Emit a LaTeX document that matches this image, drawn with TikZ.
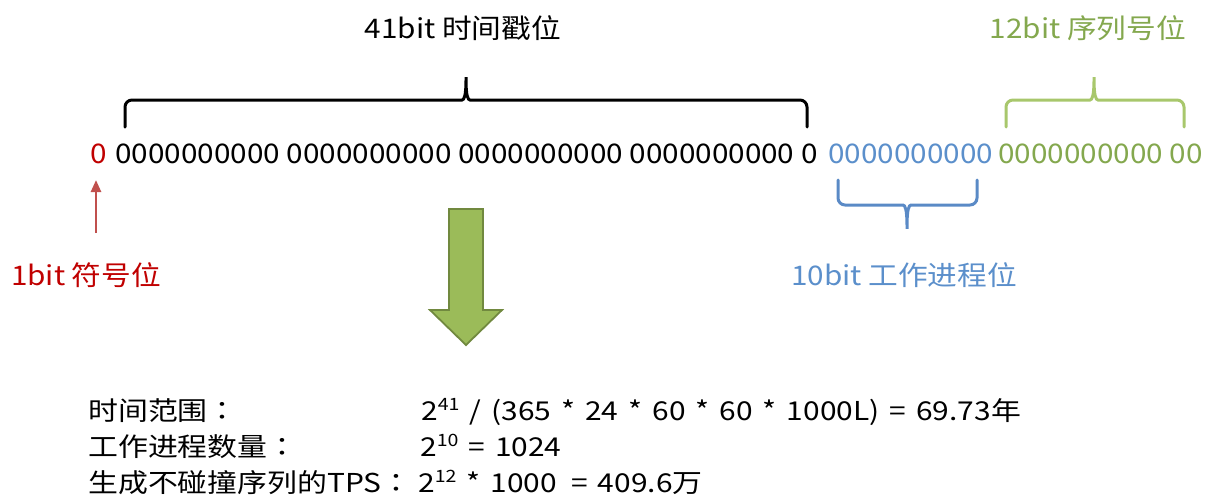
\documentclass[tikz,border=0pt]{standalone}
\usepackage{fontspec}
\setmainfont{Noto Sans CJK SC}[FakeStretch=1.1]
\newfontfamily\botfont{Noto Sans CJK SC}[FakeStretch=1.15, WordSpace=1.5]
\newfontfamily\colonfont{Noto Sans CJK JP}[FakeStretch=1.15]
\usetikzlibrary{arrows.meta}
\definecolor{cred}{HTML}{C00000}
\definecolor{carrowred}{HTML}{C0504D}
\definecolor{cblue}{HTML}{5B8FCB}
\definecolor{cbluebr}{HTML}{5A8AC6}
\definecolor{cgreen}{HTML}{84A84E}
\definecolor{cgreenbr}{HTML}{A8C76C}
\definecolor{carrowfill}{HTML}{9BBB59}
\definecolor{carrowdraw}{HTML}{71893F}
\newcommand\supnum[1]{\raisebox{0.36em}{\fontsize{17}{17}\selectfont #1}}
\newcommand\fwcolon{{\colonfont ：}}
\tikzset{
  txt/.style={inner sep=0pt, anchor=base west, font=\fontsize{27}{27}\selectfont},
  bot/.style={inner sep=0pt, anchor=base west, font=\botfont\fontsize{26}{26}\selectfont},
  lbl/.style={inner sep=0pt, anchor=base, font=\fontsize{27}{27}\selectfont},
  bracestyle/.style={line width=3pt, rounded corners=7pt, line cap=round},
}
\begin{document}
\begin{tikzpicture}[x=1pt,y=-1pt]
\useasboundingbox (0,0) rectangle (1210,499);
% top labels
\node[lbl] (t41) at (463,38) {41bit 时间戳位};
\node[lbl, text=cgreen] (t12) at (1088,38) {12bit 序列号位};
% digit row
\node[txt, text=cred] (d0) at (90,163) {0};
\node[txt] (dblk) at (115,163) {0000000000 0000000000 0000000000 0000000000 0};
\node[txt, text=cblue] (dblue) at (828,163) {0000000000};
\node[txt, text=cgreen] (dgreen) at (998,163) {0000000000 00};
% braces
\draw[bracestyle, black] (125,127) -- (125,100) -- (455,100)
  .. controls (464,100) and (466,96) .. (466,73)
  .. controls (466,96) and (468,100) .. (477,100) -- (807,100) -- (807,127);
\draw[bracestyle, cgreenbr] (1006,127) -- (1006,100) -- (1083,100)
  .. controls (1092,100) and (1094,96) .. (1094,73)
  .. controls (1094,96) and (1096,100) .. (1105,100) -- (1184,100) -- (1184,127);
\draw[bracestyle, cbluebr] (838,180) -- (838,205) -- (896,205)
  .. controls (905,205) and (907,209) .. (907,233)
  .. controls (907,209) and (909,205) .. (918,205) -- (977,205) -- (977,180);
% bottom labels
\node[lbl, text=cred] (t1) at (86,285) {1bit 符号位};
\node[lbl, text=cblue] (t10) at (904,285) {10bit 工作进程位};
% red arrow
\coordinate (ra1) at (96,233);
\coordinate (ra2) at (96,180);
\draw[carrowred, line width=2.5pt, -{Triangle[width=10pt,length=12pt]}] (ra1) -- (ra2);
% big green arrow
\draw[fill=carrowfill, draw=carrowdraw, line width=1.8pt, line join=miter]
  (449,209) -- (483,209) -- (483,310) -- (502,310) -- (466,345) -- (430,310) -- (449,310) -- cycle;
% bottom text
\node[bot] (l1) at (88,420) {时间范围\fwcolon};
\node[bot] (l2) at (88,456) {工作进程数量\fwcolon};
\node[bot] (l3) at (88,492) {生成不碰撞序列的TPS\fwcolon};
\node[bot] (r1) at (421,420) {2\supnum{41} / (365 * 24 * 60 * 60 * 1000L) = 69.73年};
\node[bot] (r2) at (420,456) {2\supnum{10} = 1024};
\node[bot] (r3) at (418,492) {2\supnum{12} * 1000 \,= 409.6万};
\end{tikzpicture}
\end{document}
